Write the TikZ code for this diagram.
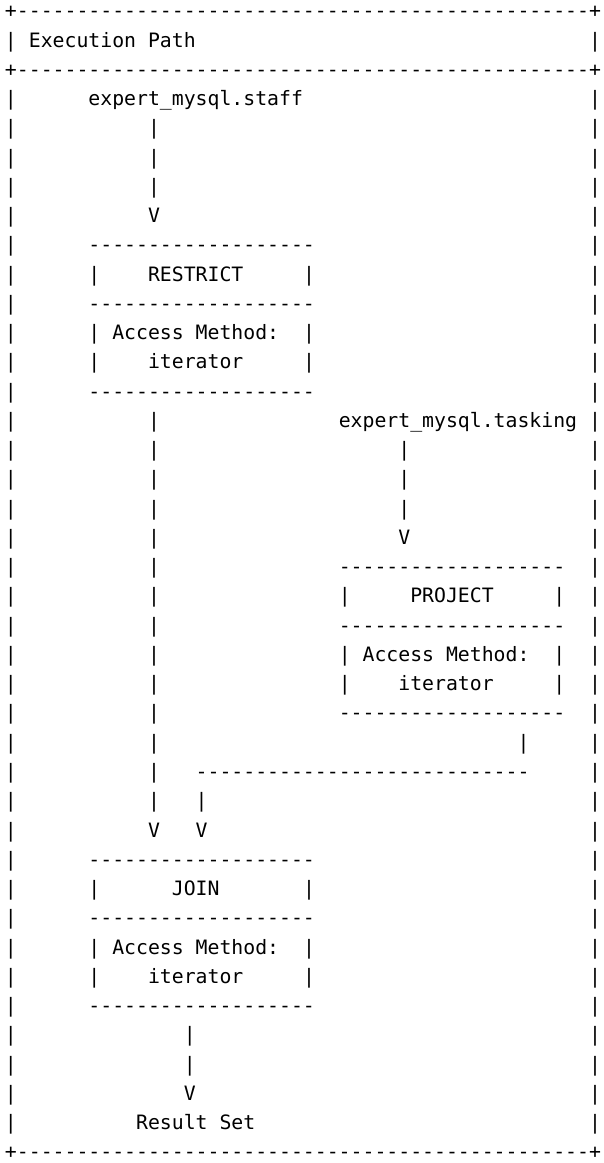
\documentclass[tikz,border=0pt]{standalone}
\usepackage{fontspec}
\setmonofont{DejaVu Sans Mono}
\newcommand\dashnineteen{-------------------}
\newcommand\dashtwentyeight{----------------------------}
\newcommand\borderline{+------------------------------------------------+}
\begin{document}
\begin{tikzpicture}[x=1pt,y=1pt]
\useasboundingbox (0,0) rectangle (603,-1163);
\begin{scope}[shift={(5pt,-17.74pt)},x=11.92pt,y=-29.26pt,
  tt/.style={anchor=base west, inner sep=0pt, outer sep=0pt,
    font=\ttfamily\fontsize{19.8}{24}\selectfont, text=black}]
% outer frame
\node[tt] (topborder) at (0,0) {\borderline};
\node[tt] (title) at (2,1) {Execution Path};
\node[tt] (sepborder) at (0,2) {\borderline};
\node[tt] (bottomborder) at (0,39) {\borderline};
\foreach \r in {1,3,4,...,38} {
  \node[tt] (lside\r) at (0,\r) {|};
  \node[tt] (rside\r) at (49,\r) {|};
}
% staff source
\node[tt] (staff) at (7,3) {expert\_mysql.staff};
\foreach \r in {4,5,6} { \node[tt] (staffpipe\r) at (12,\r) {|}; }
\node[tt] (staffarrow) at (12,7) {V};
% RESTRICT box
\node[tt] (restrtop) at (7,8) {\dashnineteen};
\node[tt] (restrmid) at (7,10) {\dashnineteen};
\node[tt] (restrbot) at (7,13) {\dashnineteen};
\foreach \r in {9,11,12} {
  \node[tt] (restrl\r) at (7,\r) {|};
  \node[tt] (restrr\r) at (25,\r) {|};
}
\node[tt] (restrict) at (12,9) {RESTRICT};
\node[tt] (restram) at (9,11) {Access Method:};
\node[tt] (restrit) at (12,12) {iterator};
% RESTRICT -> JOIN
\foreach \r in {14,...,27} { \node[tt] (leftpipe\r) at (12,\r) {|}; }
\node[tt] (leftarrow) at (12,28) {V};
% tasking source
\node[tt] (tasking) at (28,14) {expert\_mysql.tasking};
\foreach \r in {15,16,17} { \node[tt] (taskpipe\r) at (33,\r) {|}; }
\node[tt] (taskarrow) at (33,18) {V};
% PROJECT box
\node[tt] (projtop) at (28,19) {\dashnineteen};
\node[tt] (projmid) at (28,21) {\dashnineteen};
\node[tt] (projbot) at (28,24) {\dashnineteen};
\foreach \r in {20,22,23} {
  \node[tt] (projl\r) at (28,\r) {|};
  \node[tt] (projr\r) at (46,\r) {|};
}
\node[tt] (project) at (34,20) {PROJECT};
\node[tt] (projam) at (30,22) {Access Method:};
\node[tt] (projit) at (33,23) {iterator};
% PROJECT -> JOIN
\node[tt] (projpipe) at (43,25) {|};
\node[tt] (projrun) at (16,26) {\dashtwentyeight};
\node[tt] (rightpipe) at (16,27) {|};
\node[tt] (rightarrow) at (16,28) {V};
% JOIN box
\node[tt] (jointop) at (7,29) {\dashnineteen};
\node[tt] (joinmid) at (7,31) {\dashnineteen};
\node[tt] (joinbot) at (7,34) {\dashnineteen};
\foreach \r in {30,32,33} {
  \node[tt] (joinl\r) at (7,\r) {|};
  \node[tt] (joinr\r) at (25,\r) {|};
}
\node[tt] (join) at (14,30) {JOIN};
\node[tt] (joinam) at (9,32) {Access Method:};
\node[tt] (joinit) at (12,33) {iterator};
% result
\foreach \r in {35,36} { \node[tt] (respipe\r) at (15,\r) {|}; }
\node[tt] (resarrow) at (15,37) {V};
\node[tt] (result) at (11,38) {Result Set};
\end{scope}
\end{tikzpicture}
\end{document}
